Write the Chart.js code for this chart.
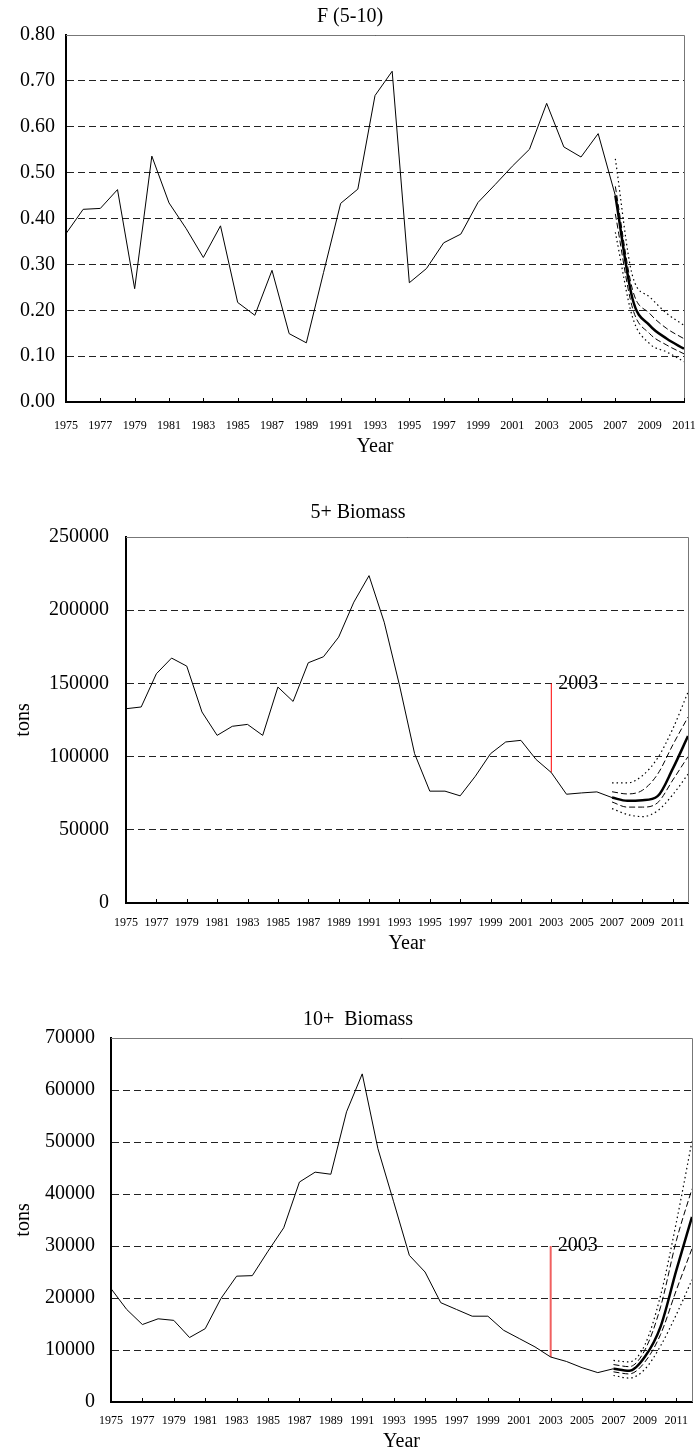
<!DOCTYPE html>
<html>
<head>
<meta charset="utf-8">
<script src="https://cdn.jsdelivr.net/npm/chart.js@4.4.1/dist/chart.umd.min.js"></script>
<style>
  html, body { margin: 0; padding: 0; background: #fff; }
  body { width: 697px; height: 1452px; position: relative; overflow: hidden; }
  canvas { position: absolute; left: 0; }
</style>
</head>
<body>
<canvas id="fChart" width="697" height="470" style="top:0px"></canvas>
<canvas id="b5Chart" width="697" height="470" style="top:490px"></canvas>
<canvas id="b10Chart" width="697" height="472" style="top:980px"></canvas>
<script>
/* ---------- data ---------- */
const histYears = [1975, 1976, 1977, 1978, 1979, 1980, 1981, 1982, 1983, 1984,
  1985, 1986, 1987, 1988, 1989, 1990, 1991, 1992, 1993, 1994, 1995, 1996, 1997,
  1998, 1999, 2000, 2001, 2002, 2003, 2004, 2005, 2006, 2007];
const tickYears = [1975, 1977, 1979, 1981, 1983, 1985, 1987, 1989, 1991, 1993,
  1995, 1997, 1999, 2001, 2003, 2005, 2007, 2009, 2011];

// F (5-10)
const fHist = [0.367, 0.420, 0.422, 0.463, 0.247, 0.536, 0.434, 0.378, 0.315, 0.384,
  0.217, 0.189, 0.287, 0.149, 0.129, 0.282, 0.433, 0.464, 0.668, 0.721, 0.260, 0.291,
  0.347, 0.366, 0.435, 0.474, 0.514, 0.551, 0.651, 0.556, 0.534, 0.585, 0.450];
const fProjYears = [2007, 2008, 2009, 2010, 2011];
const fMedian = [0.450, 0.225, 0.167, 0.138, 0.116];
const fHi80 = [0.470, 0.245, 0.193, 0.160, 0.138];
const fLo80 = [0.410, 0.205, 0.149, 0.124, 0.105];
const fHi95 = [0.530, 0.275, 0.229, 0.193, 0.167];
const fLo95 = [0.370, 0.185, 0.127, 0.109, 0.088];

// 5+ Biomass
const b5Hist = [132700, 133900, 156600, 167300, 161800, 130500, 114500, 120700, 122000,
  114500, 147500, 137700, 164100, 168200, 181600, 205500, 223600, 191800, 149000, 102000,
  76400, 76400, 73200, 86600, 102000, 110000, 111100, 98000, 89100, 74300, 75200, 75900, 72000];
const projYears = [2007, 2008, 2009, 2010, 2011, 2012];
const b5Median = [72000, 69800, 70200, 73000, 91800, 114000];
const b5Hi80 = [76000, 74500, 77000, 88000, 108000, 127000];
const b5Lo80 = [69000, 65500, 65500, 68500, 84000, 100000];
const b5Hi95 = [82000, 82000, 87000, 99000, 119000, 144000];
const b5Lo95 = [64500, 60500, 59000, 63000, 74000, 88000];
const b5Marker = [89100, 150000];

// 10+ Biomass
const b10Hist = [21800, 17800, 14900, 16000, 15700, 12400, 14100, 19900, 24200, 24300,
  29000, 33500, 42300, 44200, 43800, 55800, 63100, 48700, 38500, 28200, 25000, 19100,
  17800, 16500, 16500, 13800, 12200, 10600, 8650, 7800, 6600, 5650, 6400];
const b10Median = [6400, 6000, 8700, 14500, 25300, 35600];
const b10Hi80 = [7200, 6800, 10000, 18300, 31000, 41000];
const b10Lo80 = [5800, 5400, 7700, 13000, 21500, 29500];
const b10Hi95 = [8000, 7700, 11000, 20500, 34500, 50200];
const b10Lo95 = [5100, 4600, 6300, 10800, 16800, 23500];
const b10Marker = [8650, 30000];

const markerYear = 2003;

/* ---------- helpers ---------- */
Chart.defaults.font.family = "'Liberation Serif', 'Times New Roman', serif";
Chart.defaults.color = '#000';

function pts(xs, ys) {
  return xs.map((x, i) => ({ x: x, y: ys[i] }));
}

function histSet(ys) {
  return { data: pts(histYears, ys), borderColor: '#000', borderWidth: 1, pointRadius: 0, tension: 0 };
}
function medSet(xs, ys) {
  return { data: pts(xs, ys), borderColor: '#000', borderWidth: 2.5, pointRadius: 0, cubicInterpolationMode: 'monotone' };
}
function band80(xs, ys) {
  return { data: pts(xs, ys), borderColor: '#000', borderWidth: 1, borderDash: [6, 3], pointRadius: 0, cubicInterpolationMode: 'monotone' };
}
function band95(xs, ys) {
  return { data: pts(xs, ys), borderColor: '#000', borderWidth: 1.2, borderDash: [1.5, 3], pointRadius: 0, cubicInterpolationMode: 'monotone' };
}
function markerSet(vals, color, width) {
  return { data: [{ x: markerYear, y: vals[0] }, { x: markerYear, y: vals[1] }], borderColor: color, borderWidth: width, pointRadius: 0 };
}

// grey frame on top/right and small inward ticks on the year axis
const framePlugin = {
  id: 'frame',
  beforeDatasetsDraw(chart) {
    const { ctx, chartArea: a, scales: { x } } = chart;
    ctx.save();
    ctx.strokeStyle = '#777';
    ctx.lineWidth = 1;
    ctx.beginPath();
    ctx.moveTo(a.left, a.top + 0.5);
    ctx.lineTo(a.right + 0.5, a.top + 0.5);
    ctx.lineTo(a.right + 0.5, a.bottom);
    ctx.stroke();
    ctx.strokeStyle = '#000';
    ctx.beginPath();
    x.ticks.forEach(t => {
      const px = Math.round(x.getPixelForValue(t.value)) + 0.5;
      ctx.moveTo(px, a.bottom);
      ctx.lineTo(px, a.bottom - 4);
    });
    ctx.stroke();
    ctx.restore();
  }
};

// "2003" label next to the marker line
const markerPlugin = {
  id: 'markerLabel',
  afterDatasetsDraw(chart, args, opts) {
    if (!opts || !opts.text) return;
    const { ctx, scales: { x, y } } = chart;
    ctx.save();
    ctx.font = '20px ' + Chart.defaults.font.family;
    ctx.fillStyle = '#000';
    ctx.textAlign = 'left';
    ctx.textBaseline = 'middle';
    ctx.fillText(opts.text, x.getPixelForValue(opts.year) + 7, y.getPixelForValue(opts.value));
    ctx.restore();
  }
};

function makeChart(id, o) {
  const yScale = {
    min: 0, max: o.yMax,
    ticks: { stepSize: o.yStep, padding: o.yTickPad, font: { size: 20 }, callback: o.yFmt },
    grid: {
      drawTicks: false, lineWidth: 1,
      color: c => (c.tick && c.tick.value === 0) ? 'rgba(0,0,0,0)' : '#222'
    },
    border: { display: true, color: '#000', width: 2, dash: [7, 4] },
    afterFit: s => { s.width = o.yWidth; s.paddingTop = 0; s.paddingBottom = 0; }
  };
  if (o.tonsPad !== null) {
    yScale.title = { display: true, text: 'tons', font: { size: 20, lineHeight: 1 }, padding: { top: o.tonsPad, bottom: 0 } };
  }
  return new Chart(document.getElementById(id), {
    type: 'line',
    data: { datasets: o.datasets },
    plugins: [framePlugin, markerPlugin],
    options: {
      responsive: false,
      animation: false,
      layout: { padding: { left: o.padLeft, right: o.padRight, top: 0, bottom: 0 } },
      plugins: {
        legend: { display: false },
        tooltip: { enabled: false },
        title: {
          display: true, text: o.title, color: '#000',
          font: { size: 20, weight: 'normal', lineHeight: 1.2 },
          padding: { top: o.titleTop, bottom: o.titleBottom }
        },
        markerLabel: o.marker || {}
      },
      scales: {
        x: {
          type: 'linear', min: 1975, max: o.xMax,
          grid: { display: false, drawTicks: false },
          border: { display: true, color: '#000', width: 2 },
          ticks: { font: { size: 12 }, padding: o.xTickPad, autoSkip: false, maxRotation: 0, minRotation: 0, callback: v => String(v) },
          afterBuildTicks: s => { s.ticks = tickYears.map(v => ({ value: v })); },
          afterFit: s => { s.height = o.xHeight; s.paddingLeft = 0; s.paddingRight = 0; },
          title: { display: true, text: 'Year', font: { size: 20, lineHeight: 1 }, padding: { top: 0, bottom: o.yearPad } }
        },
        y: yScale
      }
    }
  });
}

/* ---------- charts ---------- */
makeChart('fChart', {
  title: 'F (5-10)', titleTop: 5, titleBottom: 6,
  padLeft: 16, padRight: 13, yWidth: 50, xHeight: 68,
  xMax: 2011, yMax: 0.8, yStep: 0.1, yFmt: v => Number(v).toFixed(2),
  yTickPad: 11, xTickPad: 17, yearPad: 13, tonsPad: null,
  datasets: [
    histSet(fHist),
    band95(fProjYears, fHi95), band80(fProjYears, fHi80),
    band80(fProjYears, fLo80), band95(fProjYears, fLo95),
    medSet(fProjYears, fMedian)
  ]
});

makeChart('b5Chart', {
  title: '5+ Biomass', titleTop: 11, titleBottom: 12,
  padLeft: 28, padRight: 9, yWidth: 98, xHeight: 57,
  xMax: 2012, yMax: 250000, yStep: 50000, yFmt: v => String(v),
  yTickPad: 17, xTickPad: 13, yearPad: 6, tonsPad: -14,
  marker: { year: markerYear, value: b5Marker[1], text: '2003' },
  datasets: [
    histSet(b5Hist),
    markerSet(b5Marker, '#ff0000', 1),
    band95(projYears, b5Hi95), band80(projYears, b5Hi80),
    band80(projYears, b5Lo80), band95(projYears, b5Lo95),
    medSet(projYears, b5Median)
  ]
});

makeChart('b10Chart', {
  title: '10+  Biomass', titleTop: 28, titleBottom: 6,
  padLeft: 24, padRight: 5, yWidth: 87, xHeight: 50,
  xMax: 2012, yMax: 70000, yStep: 10000, yFmt: v => String(v),
  yTickPad: 16, xTickPad: 12, yearPad: 0, tonsPad: -10,
  marker: { year: markerYear, value: b10Marker[1], text: '2003' },
  datasets: [
    histSet(b10Hist),
    markerSet(b10Marker, '#f06060', 2),
    band95(projYears, b10Hi95), band80(projYears, b10Hi80),
    band80(projYears, b10Lo80), band95(projYears, b10Lo95),
    medSet(projYears, b10Median)
  ]
});
</script>
</body>
</html>
